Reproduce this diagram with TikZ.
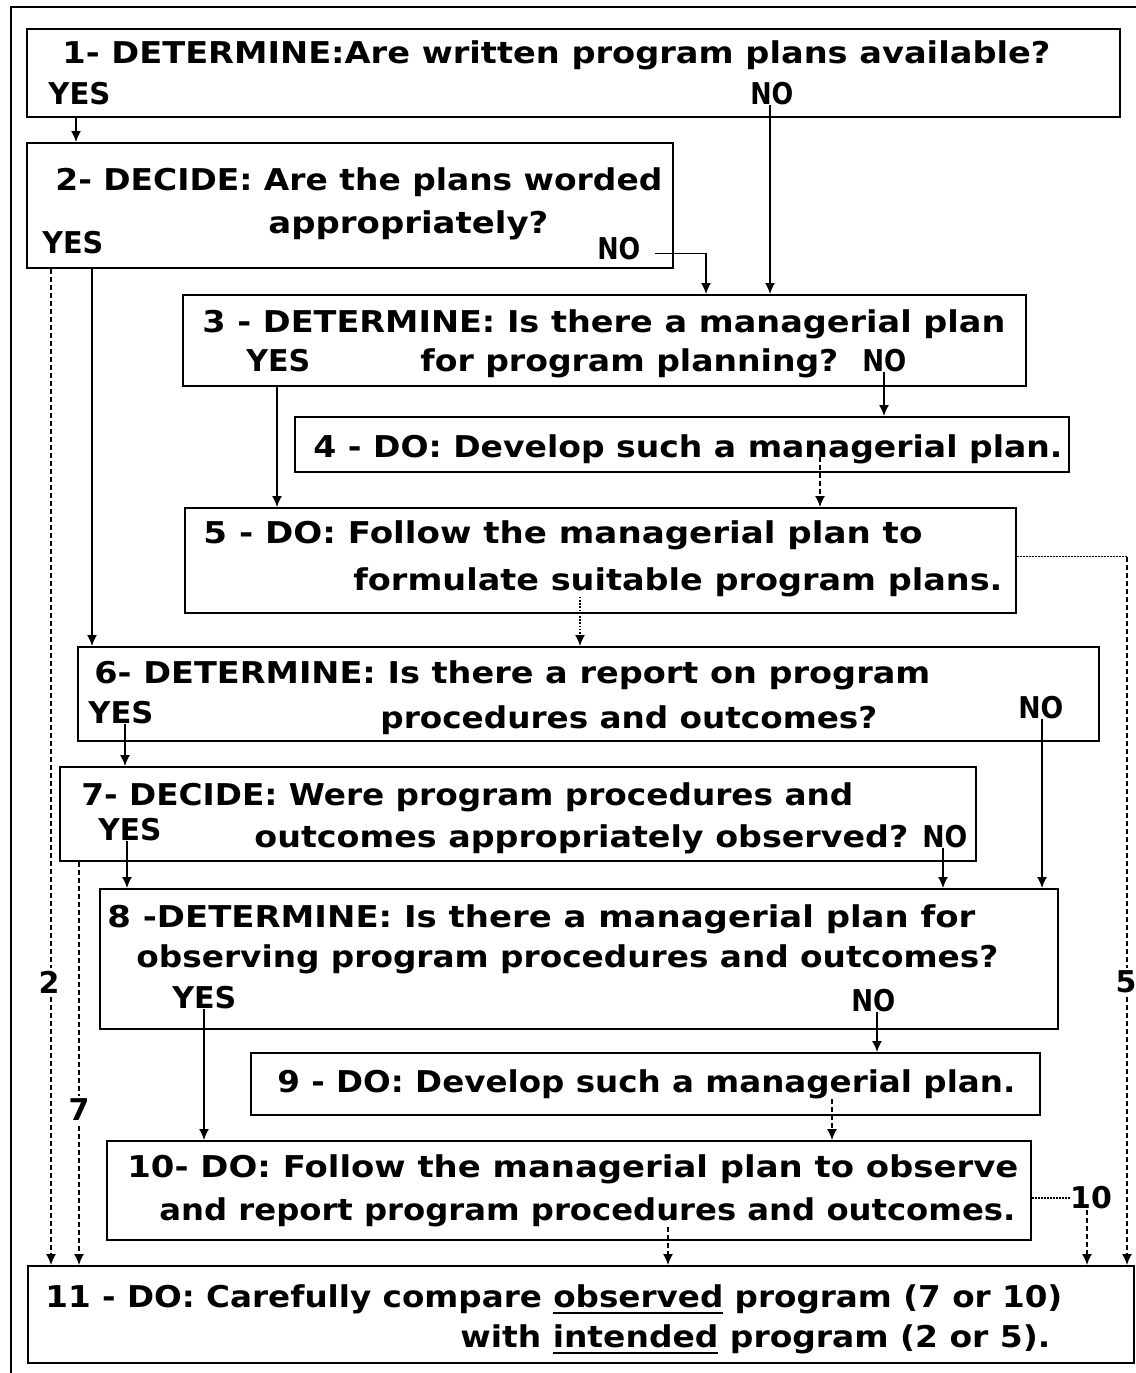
\documentclass[tikz,border=0pt]{standalone}
\usepackage{fontspec}
\usepackage{graphicx}
\setmainfont{DejaVu Sans}
\usetikzlibrary{arrows.meta}

% one line of text, stretched horizontally to a given width (in px units)
\newsavebox\linebox
\newcommand\fitto[2]{%
  \sbox\linebox{#2}%
  \pgfmathsetmacro\fitratio{(#1)*0.5pt/\wd\linebox}%
  \scalebox{\fitratio}[1]{\usebox\linebox}}

% thick, low underline
\newcommand\uln[1]{{\setbox0\hbox{#1}\rlap{\rule[-3.6pt]{\wd0}{1.1pt}}\box0}}

% a framed step given by its corners (px units, y downwards)
\newcommand\stepframe[5]{%
  \node[box, minimum width={(#4-#2)*0.5pt}, minimum height={(#5-#3)*0.5pt}]
    (#1) at ({(#2+#4)/2},{(#3+#5)/2}) {};}

% a text line: name, left x, baseline y, right x, text
\newcommand\tline[5]{%
  \node[txt] (#1) at (#2,#3) {\fitto{#4-#2}{#5}};}

\begin{document}
\begin{tikzpicture}[x=0.5pt, y=-0.5pt,
  box/.style={draw, line width=1pt, inner sep=0pt},
  txt/.style={anchor=base west, inner sep=0pt, font=\fontsize{15}{18}\selectfont\bfseries},
  lbl/.style={inner sep=1.5pt, fill=white, font=\fontsize{15}{18}\selectfont\bfseries},
  conn/.style={line width=0.7pt, -{Latex[length=5.5pt,width=5pt]}},
  dconn/.style={conn, dash pattern=on 2.5pt off 1.5pt},
  dotconn/.style={conn, dash pattern=on 0.8pt off 0.8pt},
  dotline/.style={line width=0.8pt, dash pattern=on 0.8pt off 0.7pt},
]
\useasboundingbox (0,0) rectangle (1136,1373);

% outer frame (runs off the page at right and bottom)
\draw[line width=1pt] (11,1380) -- (11,7) -- (1140,7);

% ---------- frames ----------
\stepframe{b1}{27}{29}{1120}{117}
\stepframe{b2}{27}{143}{673}{268}
\stepframe{b3}{183}{295}{1026}{386}
\stepframe{b4}{295}{417}{1069}{472}
\stepframe{b5}{185}{508}{1016}{613}
\stepframe{b6}{78}{647}{1099}{741}
\stepframe{b7}{60}{767}{976}{861}
\stepframe{b8}{100}{889}{1058}{1029}
\stepframe{b9}{251}{1053}{1040}{1115}
\stepframe{b10}{107}{1141}{1031}{1240}
\stepframe{b11}{28}{1266}{1134}{1363}

% ---------- texts ----------
\tline{t1}{62}{63}{1050}{1- DETERMINE:Are written program plans available?}
\tline{y1}{48}{104}{110}{YES}
\tline{n1}{750}{104}{793}{NO}

\tline{t2a}{55}{190}{662}{2- DECIDE: Are the plans worded}
\tline{t2b}{268}{233}{548}{appropriately?}
\tline{y2}{42}{253}{103}{YES}
\tline{n2}{597}{259}{640}{NO}

\tline{t3a}{202}{332}{1005}{3 - DETERMINE: Is there a managerial plan}
\tline{y3}{246}{371}{310}{YES}
\tline{t3b}{420}{371}{838}{for program planning?}
\tline{n3}{862}{371}{906}{NO}

\tline{t4}{313}{457}{1062}{4 - DO: Develop such a managerial plan.}

\tline{t5a}{203}{543}{922}{5 - DO: Follow the managerial plan to}
\tline{t5b}{353}{590}{1002}{formulate suitable program plans.}

\tline{t6a}{94}{683}{930}{6- DETERMINE: Is there a report on program}
\tline{y6}{88}{723}{153}{YES}
\tline{t6b}{380}{728}{877}{procedures and outcomes?}
\tline{n6}{1018}{718}{1063}{NO}

\tline{t7a}{81}{805}{853}{7- DECIDE: Were program procedures and}
\tline{y7}{98}{840}{161}{YES}
\tline{t7b}{254}{847}{908}{outcomes appropriately observed?}
\tline{n7}{922}{847}{967}{NO}

\tline{t8a}{107}{927}{975}{8 -DETERMINE: Is there a managerial plan for}
\tline{t8b}{136}{967}{998}{observing program procedures and outcomes?}
\tline{y8}{172}{1008}{236}{YES}
\tline{n8}{851}{1011}{895}{NO}

\tline{t9}{277}{1092}{1015}{9 - DO: Develop such a managerial plan.}

\tline{t10a}{127}{1177}{1018}{10- DO: Follow the managerial plan to observe}
\tline{t10b}{159}{1220}{1015}{and report program procedures and outcomes.}

\tline{t11a}{45}{1307}{1062}{11 - DO: Carefully compare \uln{observed} program (7 or 10)}
\tline{t11b}{460}{1347}{1050}{with \uln{intended} program (2 or 5).}

% ---------- connector columns ----------
\coordinate (x1y) at (76,0);
\coordinate (x1n) at (770,0);
\coordinate (x2d) at (51,0);
\coordinate (x2y) at (92,0);
\coordinate (x2n) at (706,0);
\coordinate (x3y) at (277,0);
\coordinate (x3n) at (884,0);
\coordinate (x4) at (820,0);
\coordinate (x5r) at (1127,0);
\coordinate (x5) at (580,0);
\coordinate (x6y) at (125,0);
\coordinate (x6n) at (1042,0);
\coordinate (x7d) at (79,0);
\coordinate (x7y) at (127,0);
\coordinate (x7n) at (943,0);
\coordinate (x8y) at (204,0);
\coordinate (x8n) at (877,0);
\coordinate (x9) at (832,0);
\coordinate (x10) at (668,0);
\coordinate (x10r) at (1087,0);

% ---------- connectors ----------
\draw[conn] (x1y |- b1.south) -- (x1y |- b2.north);
\draw[conn] (x1n |- n1.south) -- (x1n |- b3.north);

\draw[conn] ([xshift=7pt]n2.mid east) -| (x2n |- b3.north);
\draw[conn] (x2y |- b2.south) -- (x2y |- b6.north);
\draw[dconn] (x2d |- b2.south) -- (x2d |- b11.north);
\node[lbl] (l2) at (49,982) {2};

\draw[conn] (x3n |- n3.south) -- (x3n |- b4.north);
\draw[conn] (x3y |- b3.south) -- (x3y |- b5.north);

\draw[dconn] (x4 |- t4.base) -- (x4 |- b5.north);

\draw[dotline] ([yshift=2pt]b5.east) -| (x5r |- b5.east);
\draw[dconn] ([yshift=2pt]x5r |- b5.east) -- (x5r |- b11.north);
\node[lbl] (l5) at (1126,982) {5};
\draw[dotconn] (x5 |- t5b.south) -- (x5 |- b6.north);

\draw[conn] (x6y |- y6.south) -- (x6y |- b7.north);
\draw[conn] (x6n |- n6.south) -- (x6n |- b8.north);

\draw[conn] (x7y |- y7.south) -- (x7y |- b8.north);
\draw[conn] (x7n |- n7.south) -- (x7n |- b8.north);
\draw[dconn] (x7d |- b7.south) -- (x7d |- b11.north);
\node[lbl] (l7) at (79,1110) {7};

\draw[conn] (x8y |- y8.south) -- (x8y |- b10.north);
\draw[conn] (x8n |- n8.south) -- (x8n |- b9.north);

\draw[dconn] (x9 |- t9.south) -- (x9 |- b10.north);

\node[lbl, fill=none, inner sep=0pt] (l10) at (1091,1198) {10};
\draw[dotline] (b10.east |- l10) -- (l10.west);
\draw[dconn] (x10r |- l10.south) -- (x10r |- b11.north);
\draw[dconn] (x10 |- t10b.south) -- (x10 |- b11.north);
\end{tikzpicture}
\end{document}
